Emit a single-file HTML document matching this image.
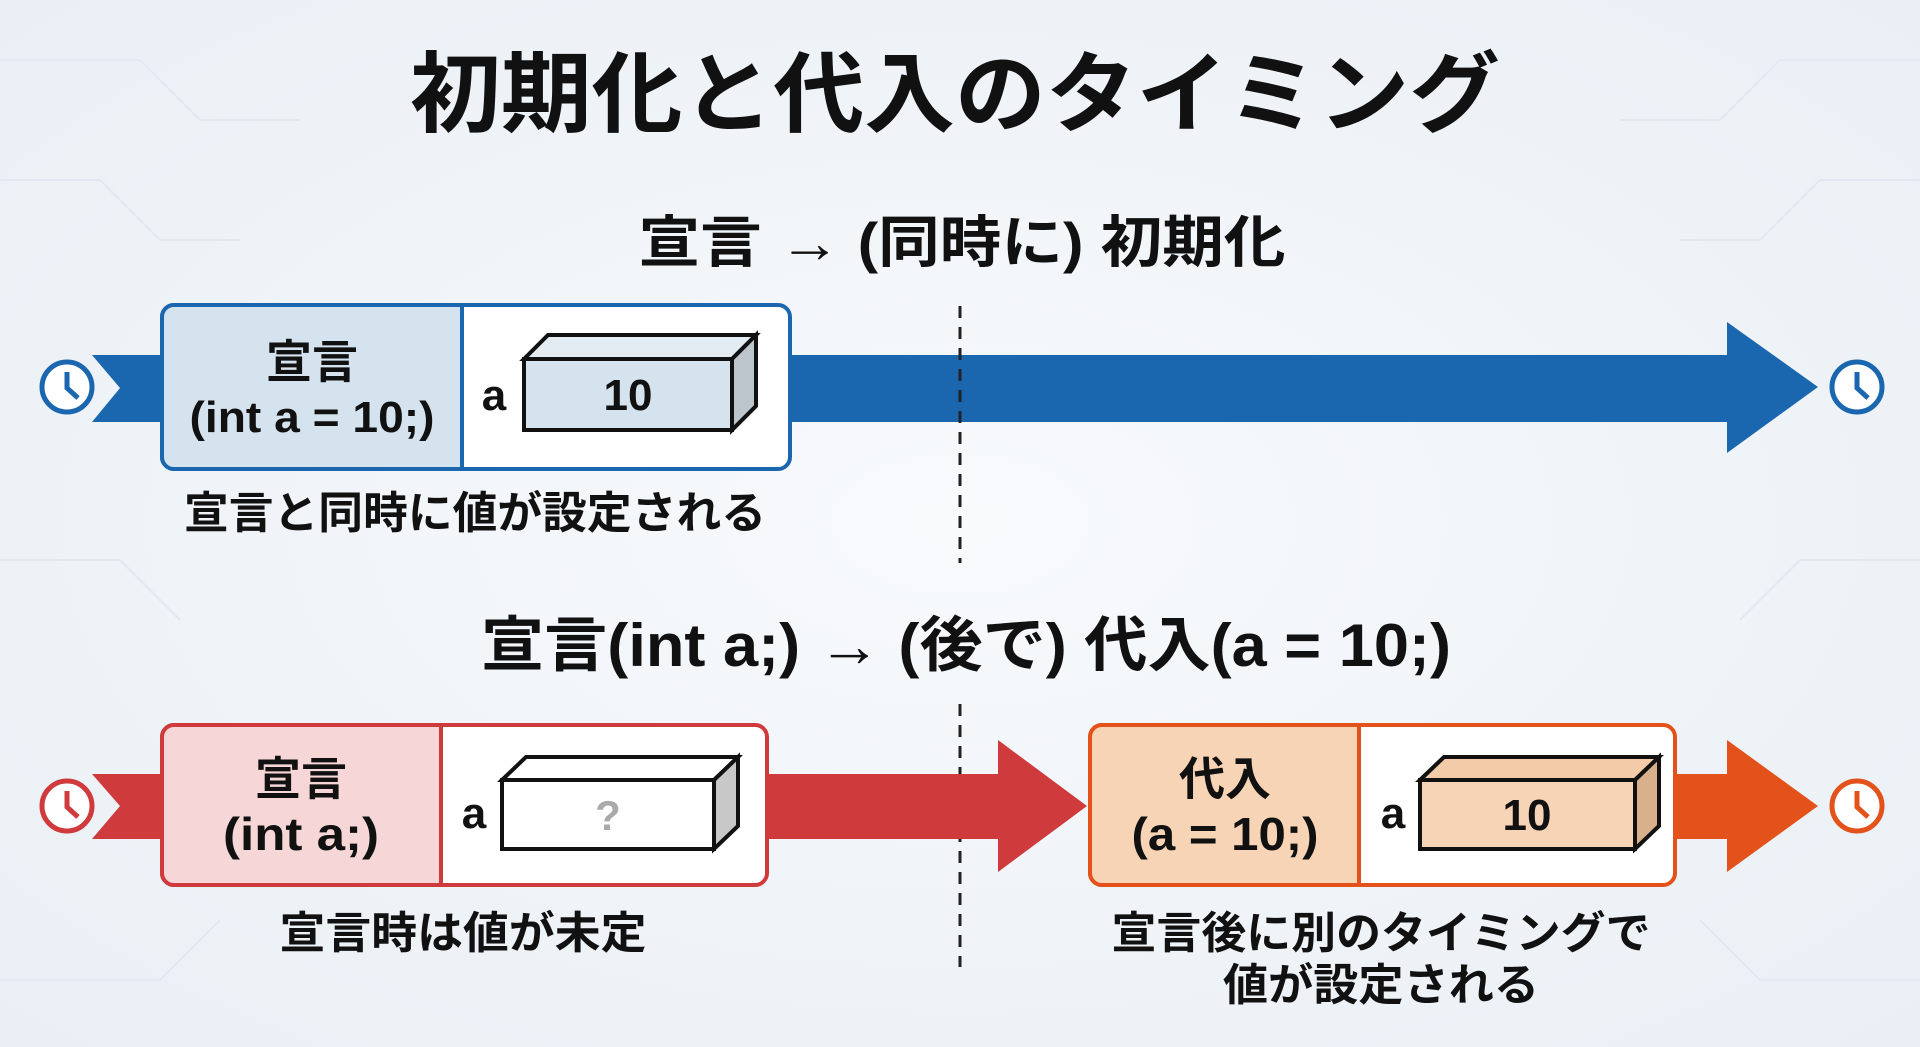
<!DOCTYPE html>
<html><head><meta charset="utf-8"><style>
html,body{margin:0;padding:0;width:1920px;height:1047px;overflow:hidden;background:#f1f5f9}
svg{display:block}
text{font-family:"Liberation Sans","Noto Sans CJK JP",sans-serif;font-weight:700;fill:#111}
</style></head><body>
<svg width="1920" height="1047" viewBox="0 0 1920 1047">
<defs>
<radialGradient id="bg" cx="50%" cy="50%" r="70%"><stop offset="0" stop-color="#f8fafc"/><stop offset="1" stop-color="#e9eff5"/></radialGradient>
</defs>
<rect width="1920" height="1047" fill="url(#bg)"/>
<g stroke="#e2e8f0" stroke-width="2" fill="none">
<path d="M0 60H140L200 120H300"/><path d="M0 180H100L160 240H240"/><path d="M1920 60H1780L1720 120H1620"/><path d="M1920 180H1820L1760 240H1680"/>
<path d="M0 560H120L180 620"/><path d="M1920 560H1800L1740 620"/><path d="M0 980H160L220 920"/><path d="M1920 980H1760L1700 920"/>
</g>
<text x="955" y="125" font-size="88" text-anchor="middle" textLength="1090" lengthAdjust="spacingAndGlyphs">初期化と代入のタイミング</text>
<text x="962" y="262" font-size="56" text-anchor="middle" textLength="647" lengthAdjust="spacingAndGlyphs">宣言 → (同時に) 初期化</text>

<!-- blue arrow -->
<polygon points="92,355 1727,355 1727,322 1818,387 1727,453 1727,422 92,422 120,388" fill="#1a67b0"/>
<circle cx="67" cy="387" r="25" fill="#fff" stroke="#1a67b0" stroke-width="5"/>
<path d="M67 372V388L78 398" stroke="#1a67b0" stroke-width="5" fill="none"/>
<circle cx="1857" cy="387" r="25" fill="#fff" stroke="#1a67b0" stroke-width="5"/>
<path d="M1857 372V388L1868 398" stroke="#1a67b0" stroke-width="5" fill="none"/>
<rect x="162" y="305" width="628" height="164" rx="12" fill="#fff" stroke="#1a67b0" stroke-width="4"/>
<path d="M174 305H462V469H174A12 12 0 0 1 162 457V317A12 12 0 0 1 174 305Z" fill="#d5e3ef" stroke="#1a67b0" stroke-width="4"/>
<text x="312" y="378" font-size="46" text-anchor="middle">宣言</text>
<text x="312" y="432" font-size="44" text-anchor="middle" textLength="245" lengthAdjust="spacingAndGlyphs">(int a = 10;)</text>
<text x="494" y="410" font-size="44" text-anchor="middle">a</text>
<polygon points="524,359 548,335 756,335 732,359" fill="#e4ecf3" stroke="#111" stroke-width="4"/>
<polygon points="732,359 756,335 756,406 732,430" fill="#bcc4cc" stroke="#111" stroke-width="4"/>
<rect x="524" y="359" width="208" height="71" fill="#d5e3ef" stroke="#111" stroke-width="4"/>
<text x="628" y="410" font-size="44" text-anchor="middle">10</text>
<text x="475" y="528" font-size="44" text-anchor="middle" textLength="582" lengthAdjust="spacingAndGlyphs">宣言と同時に値が設定される</text>

<line x1="960" y1="306" x2="960" y2="563" stroke="#222" stroke-width="3" stroke-dasharray="12 9"/>
<line x1="960" y1="704" x2="960" y2="967" stroke="#222" stroke-width="3" stroke-dasharray="12 9"/>

<text x="966" y="666" font-size="60" text-anchor="middle" textLength="970" lengthAdjust="spacingAndGlyphs">宣言(int a;) → (後で) 代入(a = 10;)</text>

<!-- red arrow -->
<polygon points="92,774 998,774 998,740 1087,806 998,872 998,839 92,839 120,806" fill="#cf3a3c"/>
<circle cx="67" cy="806" r="25" fill="#fff" stroke="#cf3a3c" stroke-width="5"/>
<path d="M67 791V807L78 817" stroke="#cf3a3c" stroke-width="5" fill="none"/>
<!-- orange arrow -->
<polygon points="1670,774 1727,774 1727,740 1818,806 1727,872 1727,839 1670,839" fill="#e4521b"/>
<circle cx="1857" cy="806" r="25" fill="#fff" stroke="#e4521b" stroke-width="5"/>
<path d="M1857 791V807L1868 817" stroke="#e4521b" stroke-width="5" fill="none"/>

<rect x="162" y="725" width="605" height="160" rx="12" fill="#fff" stroke="#cf3a3c" stroke-width="4"/>
<path d="M174 725H441V885H174A12 12 0 0 1 162 873V737A12 12 0 0 1 174 725Z" fill="#f6d6d6" stroke="#cf3a3c" stroke-width="4"/>
<text x="301" y="795" font-size="46" text-anchor="middle">宣言</text>
<text x="301" y="850" font-size="46" text-anchor="middle" textLength="156" lengthAdjust="spacingAndGlyphs">(int a;)</text>
<text x="474" y="828" font-size="44" text-anchor="middle">a</text>
<polygon points="502,780 526,757 738,757 714,780" fill="#fff" stroke="#111" stroke-width="4"/>
<polygon points="714,780 738,757 738,826 714,849" fill="#c8c8c8" stroke="#111" stroke-width="4"/>
<rect x="502" y="780" width="212" height="69" fill="#fff" stroke="#111" stroke-width="4"/>
<text x="608" y="830" font-size="42" text-anchor="middle" style="fill:#aaa">?</text>
<text x="463" y="948" font-size="44" text-anchor="middle" textLength="367" lengthAdjust="spacingAndGlyphs">宣言時は値が未定</text>

<rect x="1090" y="725" width="585" height="160" rx="12" fill="#fff" stroke="#e4521b" stroke-width="4"/>
<path d="M1102 725H1359V885H1102A12 12 0 0 1 1090 873V737A12 12 0 0 1 1102 725Z" fill="#f8d4b6" stroke="#e4521b" stroke-width="4"/>
<text x="1225" y="795" font-size="46" text-anchor="middle">代入</text>
<text x="1225" y="850" font-size="46" text-anchor="middle" textLength="187" lengthAdjust="spacingAndGlyphs">(a = 10;)</text>
<text x="1393" y="828" font-size="44" text-anchor="middle">a</text>
<polygon points="1420,780 1444,757 1659,757 1635,780" fill="#f3cba8" stroke="#111" stroke-width="4"/>
<polygon points="1635,780 1659,757 1659,826 1635,849" fill="#d9b08c" stroke="#111" stroke-width="4"/>
<rect x="1420" y="780" width="215" height="69" fill="#f8d4b6" stroke="#111" stroke-width="4"/>
<text x="1527" y="830" font-size="44" text-anchor="middle">10</text>
<text x="1381" y="948" font-size="44" text-anchor="middle" textLength="539" lengthAdjust="spacingAndGlyphs">宣言後に別のタイミングで</text>
<text x="1381" y="1000" font-size="44" text-anchor="middle" textLength="316" lengthAdjust="spacingAndGlyphs">値が設定される</text>
</svg>
</body></html>
